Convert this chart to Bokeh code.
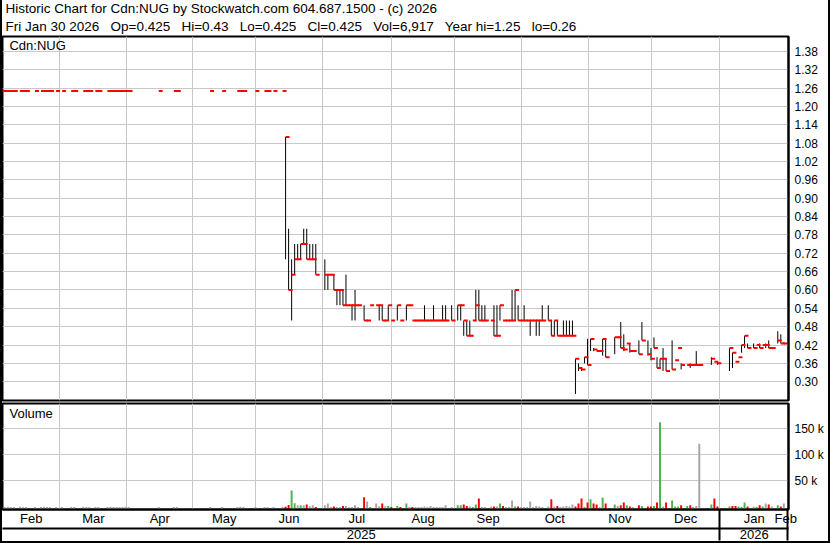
from bokeh.plotting import figure
from bokeh.layouts import column
from bokeh.models import (Range1d, LinearAxis, FixedTicker, Grid, Title, Label,
                          ColumnDataSource, NumeralTickFormatter, BoxAnnotation)
from bokeh.embed import file_html
from bokeh.resources import INLINE

FONT = "Liberation Sans"
SP = "\u00a0\u00a0 "

header_line1 = "Historic Chart for Cdn:NUG by Stockwatch.com 604.687.1500 - (c) 2026"
header_line2 = SP.join(["Fri Jan 30 2026", "Op=0.425", "Hi=0.43", "Lo=0.425", "Cl=0.425",
                        "Vol=6,917", "Year hi=1.25", "lo=0.26"])
symbol = "Cdn:NUG"

# month boundaries in session (weekday slot) units
month_names = ["Feb", "Mar", "Apr", "May", "Jun", "Jul", "Aug", "Sep", "Oct", "Nov", "Dec", "Jan", "Feb"]
month_bounds = [0, 19.0, 41.2, 63.0, 83.9, 105.9, 128.8, 149.8, 171.8, 194.0, 214.9, 237.6, 260.3]
year_names = ["2025", "2026"]
year_bounds = [0, 237.6, 260.3]

price_ticks = [0.30, 0.36, 0.42, 0.48, 0.54, 0.60, 0.66, 0.72, 0.78, 0.84, 0.90,
               0.96, 1.02, 1.08, 1.14, 1.20, 1.26, 1.32, 1.38]
vol_ticks = [50000, 100000, 150000]
vol_tick_labels = ["50 k", "100 k", "150 k"]

# session index, high, low, close, volume, direction (g up / r down / n unchanged)
day_slot = [0, 1, 2, 3, 4, 6, 7, 8, 11, 13, 14, 15, 16, 18, 20, 23, 24, 27, 28, 29, 31, 32,
            35, 36, 37, 38, 39, 40, 41, 42, 52, 57, 58, 69, 73, 78, 79, 80, 84, 87, 88, 90, 93,
            94, 95, 96, 97, 98, 99, 100, 101, 102, 103, 104,
            107, 108, 109, 110, 111, 112, 113, 114, 115, 116, 117, 118,
            120, 121, 122, 124, 125, 126, 127, 128, 129, 131, 132,
            134, 135, 136, 137, 138, 139, 140, 141, 142, 143, 144, 145, 146, 147, 149,
            151, 152, 153, 154, 155, 156, 157, 158, 159, 160,
            162, 163, 164, 165, 166, 167, 168, 169, 170, 171, 172, 173, 174, 175, 176, 177, 178, 179,
            181, 182, 183, 184, 185, 186, 187, 188, 189, 190, 191, 192, 193, 194, 195, 196, 197, 198, 199, 200,
            203, 204, 205, 206, 207, 208, 209, 211, 212,
            214, 215, 216, 217, 218, 219, 220, 222, 223, 224, 225,
            227, 228, 229, 230, 231, 235, 236, 237,
            241, 242, 243, 244, 245, 246, 247, 249, 250, 251, 252, 253, 254, 255, 257, 258, 259]

day_high = [1.25, 1.25, 1.25, 1.25, 1.25, 1.25, 1.25, 1.25, 1.25, 1.25, 1.25, 1.25, 1.25, 1.25, 1.25,
            1.25, 1.25, 1.25, 1.25, 1.25, 1.25, 1.25, 1.25, 1.25, 1.25, 1.25, 1.25, 1.25, 1.25, 1.25,
            1.25, 1.25, 1.25, 1.25, 1.25, 1.25, 1.25, 1.25, 1.25, 1.25, 1.25, 1.25, 1.25,
            1.10, 0.80, 0.70, 0.75, 0.75, 0.75, 0.80, 0.80, 0.75, 0.75, 0.75,
            0.70, 0.65, 0.65, 0.65, 0.60, 0.60, 0.60, 0.65, 0.55, 0.55, 0.60, 0.55,
            0.55, 0.50, 0.55, 0.55, 0.55, 0.55, 0.50, 0.55, 0.50, 0.55, 0.50,
            0.55, 0.55, 0.50, 0.50, 0.50, 0.50, 0.55, 0.50, 0.50, 0.55, 0.50, 0.50, 0.55, 0.55, 0.55,
            0.55, 0.55, 0.50, 0.50, 0.50, 0.50, 0.60, 0.60, 0.55, 0.55,
            0.50, 0.55, 0.55, 0.55, 0.50, 0.50, 0.50, 0.60, 0.60, 0.55, 0.50, 0.55, 0.50, 0.50, 0.50, 0.50, 0.50, 0.55,
            0.55, 0.50, 0.50, 0.50, 0.45, 0.50, 0.50, 0.50, 0.50, 0.375, 0.36, 0.345, 0.38, 0.44, 0.44, 0.41, 0.40, 0.40, 0.44, 0.44,
            0.445, 0.445, 0.495, 0.455, 0.425, 0.425, 0.40, 0.435, 0.495,
            0.435, 0.41, 0.445, 0.38, 0.375, 0.41, 0.375, 0.435, 0.37, 0.41, 0.36,
            0.355, 0.36, 0.355, 0.40, 0.355, 0.38, 0.365, 0.365,
            0.41, 0.395, 0.365, 0.38, 0.42, 0.45, 0.425, 0.425, 0.42, 0.425, 0.42, 0.425, 0.435, 0.41, 0.465, 0.455, 0.43]

day_low = [1.25, 1.25, 1.25, 1.25, 1.25, 1.25, 1.25, 1.25, 1.25, 1.25, 1.25, 1.25, 1.25, 1.25, 1.25,
           1.25, 1.25, 1.25, 1.25, 1.25, 1.25, 1.25, 1.25, 1.25, 1.25, 1.25, 1.25, 1.25, 1.25, 1.25,
           1.25, 1.25, 1.25, 1.25, 1.25, 1.25, 1.25, 1.25, 1.25, 1.25, 1.25, 1.25, 1.25,
           0.70, 0.60, 0.50, 0.65, 0.70, 0.70, 0.75, 0.70, 0.70, 0.70, 0.65,
           0.60, 0.60, 0.65, 0.60, 0.55, 0.55, 0.55, 0.55, 0.55, 0.50, 0.50, 0.55,
           0.50, 0.50, 0.55, 0.55, 0.50, 0.50, 0.50, 0.50, 0.50, 0.50, 0.50,
           0.50, 0.55, 0.50, 0.50, 0.50, 0.50, 0.50, 0.50, 0.50, 0.50, 0.50, 0.50, 0.50, 0.50, 0.50,
           0.50, 0.50, 0.45, 0.45, 0.45, 0.50, 0.50, 0.50, 0.50, 0.50,
           0.50, 0.45, 0.45, 0.50, 0.50, 0.50, 0.50, 0.50, 0.50, 0.50, 0.50, 0.50, 0.50, 0.45, 0.50, 0.45, 0.45, 0.50,
           0.50, 0.45, 0.45, 0.45, 0.45, 0.45, 0.45, 0.45, 0.45, 0.26, 0.335, 0.335, 0.36, 0.355, 0.40, 0.40, 0.40, 0.40, 0.385, 0.38,
           0.39, 0.445, 0.41, 0.40, 0.425, 0.395, 0.40, 0.39, 0.435,
           0.385, 0.37, 0.41, 0.345, 0.345, 0.335, 0.335, 0.34, 0.37, 0.41, 0.34,
           0.355, 0.345, 0.355, 0.355, 0.355, 0.355, 0.365, 0.355,
           0.335, 0.345, 0.365, 0.38, 0.395, 0.41, 0.41, 0.41, 0.42, 0.41, 0.42, 0.41, 0.41, 0.41, 0.425, 0.425, 0.425]

day_close = [1.25, 1.25, 1.25, 1.25, 1.25, 1.25, 1.25, 1.25, 1.25, 1.25, 1.25, 1.25, 1.25, 1.25, 1.25,
             1.25, 1.25, 1.25, 1.25, 1.25, 1.25, 1.25, 1.25, 1.25, 1.25, 1.25, 1.25, 1.25, 1.25, 1.25,
             1.25, 1.25, 1.25, 1.25, 1.25, 1.25, 1.25, 1.25, 1.25, 1.25, 1.25, 1.25, 1.25,
             1.10, 0.60, 0.65, 0.70, 0.70, 0.75, 0.75, 0.70, 0.70, 0.70, 0.65,
             0.65, 0.65, 0.65, 0.60, 0.60, 0.60, 0.55, 0.55, 0.55, 0.55, 0.55, 0.55,
             0.50, 0.50, 0.55, 0.55, 0.55, 0.50, 0.50, 0.55, 0.50, 0.55, 0.50,
             0.55, 0.55, 0.50, 0.50, 0.50, 0.50, 0.50, 0.50, 0.50, 0.50, 0.50, 0.50, 0.50, 0.50, 0.50,
             0.55, 0.55, 0.50, 0.45, 0.45, 0.50, 0.55, 0.50, 0.50, 0.50,
             0.50, 0.45, 0.45, 0.55, 0.50, 0.50, 0.50, 0.50, 0.60, 0.50, 0.50, 0.50, 0.50, 0.50, 0.50, 0.50, 0.50, 0.50,
             0.50, 0.45, 0.50, 0.45, 0.45, 0.45, 0.45, 0.45, 0.45, 0.375, 0.345, 0.34, 0.38, 0.355, 0.44, 0.405, 0.40, 0.40, 0.44, 0.38,
             0.445, 0.445, 0.41, 0.405, 0.425, 0.40, 0.40, 0.39, 0.435,
             0.39, 0.375, 0.41, 0.345, 0.375, 0.375, 0.335, 0.34, 0.37, 0.41, 0.355,
             0.355, 0.355, 0.355, 0.355, 0.355, 0.375, 0.365, 0.36,
             0.41, 0.395, 0.365, 0.38, 0.42, 0.45, 0.41, 0.41, 0.42, 0.41, 0.42, 0.42, 0.41, 0.41, 0.435, 0.425, 0.425]

day_volume = [600, 400, 800, 500, 400, 700, 500, 400, 600, 500, 800, 400, 600, 500, 400,
              600, 500, 700, 400, 500, 600, 400, 500, 800, 400, 600, 500, 400, 700, 500,
              600, 500, 400, 600, 500, 400, 700, 500, 300, 400, 500, 400, 500,
              700, 4000, 32000, 7500, 3500, 3500, 3500, 5000, 1800, 3500, 400,
              3500, 7000, 400, 1500, 400, 400, 2500, 2500, 400, 400, 3500, 400,
              19000, 11000, 400, 7000, 1800, 7000, 1800, 2500, 400, 2500, 400,
              7000, 400, 400, 400, 400, 400, 1500, 400, 2500, 400, 400, 400, 400, 3500, 400,
              3500, 3500, 5000, 2500, 1500, 400, 5000, 16500, 400, 400,
              1500, 1500, 1500, 7000, 2500, 400, 400, 13000, 1500, 1500, 400, 400, 400, 11000, 400, 2500, 1500, 400,
              1500, 15000, 1500, 2500, 400, 1500, 2500, 1500, 5000, 1500, 7000, 16500, 400, 9000, 15000, 7000, 5000, 400, 18500, 7000,
              5000, 2500, 3500, 9000, 3500, 1500, 400, 3500, 2500,
              1500, 1500, 2500, 9000, 162000, 1500, 9000, 13000, 1500, 1500, 3500,
              2500, 3500, 400, 2500, 121000, 5000, 16500, 1500,
              1500, 2500, 2500, 1500, 400, 9000, 1500, 1500, 400, 3500, 1500, 7000, 5000, 1500, 3500, 1500, 6917]

day_dir = [
    "n", "n", "n", "n", "n", "n", "n", "n", "n", "n", "n", "n", "n", "n", "n",
    "n", "n", "n", "n", "n", "n", "n", "n", "n", "n", "n", "n", "n", "n", "n",
    "n", "n", "n", "n", "n", "n", "n", "n", "n", "n", "n", "n", "n",
    "r", "r", "g", "g", "n", "g", "n", "r", "n", "n", "r",
    "n", "n", "n", "r", "n", "n", "r", "n", "n", "n", "n", "n",
    "r", "n", "g", "n", "n", "r", "n", "g", "r", "g", "r",
    "g", "n", "r", "n", "n", "n", "n", "n", "n", "n", "n", "n", "n", "n", "n",
    "g", "g", "r", "r", "n", "g", "g", "r", "n", "n",
    "n", "r", "n", "g", "r", "n", "n", "n", "g", "r", "n", "n", "n", "n", "n", "n", "n", "n",
    "n", "r", "n", "r", "n", "n", "n", "n", "n", "r", "r", "r", "g", "r", "g", "r", "r", "n", "g", "r",
    "g", "n", "r", "r", "g", "r", "n", "r", "g",
    "r", "r", "g", "r", "g", "n", "r", "g", "g", "g", "r",
    "g", "r", "n", "n", "n", "g", "r", "r",
    "g", "r", "r", "g", "g", "g", "r", "n", "g", "r", "g", "n", "r", "n", "g", "r", "n"]

dir_colors = {"g": "#4cb44c", "r": "#ff0000", "n": "#a6a6a6"}

X_RANGE = (0, 260.3)
P_RANGE = (0.2386, 1.4284)
V_RANGE = (-4400, 197900)

src = ColumnDataSource(dict(
    x=[s - 0.25 for s in day_slot],
    xe=[s + 1.05 for s in day_slot],
    hi=day_high, lo=day_low, cl=day_close,
    vol=day_volume,
    color=[dir_colors[d] for d in day_dir],
))

GRID = "#c8c8c8"
W = 826

# ---------------- price panel ----------------
p = figure(width=W, height=402, x_range=Range1d(*X_RANGE), y_range=Range1d(*P_RANGE),
           output_backend="svg", toolbar_location=None, x_axis_location=None,
           y_axis_location="right", min_border_left=0, min_border_right=40,
           min_border_top=32, min_border_bottom=2,
           outline_line_color="black", outline_line_width=2,
           background_fill_color="white", border_fill_color="white")
p.grid.visible = False
p.add_layout(Grid(dimension=1, ticker=FixedTicker(ticks=price_ticks), grid_line_color=GRID))
p.add_layout(Grid(dimension=0, ticker=FixedTicker(ticks=month_bounds[1:-1]), grid_line_color=GRID))

ya = p.yaxis[0]
ya.ticker = FixedTicker(ticks=price_ticks)
ya.formatter = NumeralTickFormatter(format="0.00")
ya.major_tick_out = 0
ya.major_tick_in = 0
ya.minor_tick_out = 0
ya.minor_tick_in = 0
ya.axis_line_width = 2
ya.major_label_standoff = 6
ya.major_label_text_font = FONT
ya.major_label_text_font_size = "12px"
ya.major_label_text_color = "black"

p.add_layout(Title(text=header_line2, align="left", offset=3, standoff=5, text_font=FONT,
                   text_font_size="13.5px", text_font_style="normal", text_color="black"), "above")
p.add_layout(Title(text=header_line1, align="left", offset=3, standoff=-3, text_font=FONT,
                   text_font_size="13.5px", text_font_style="normal", text_color="black"), "above")

# header rule continuing over the price-label column
p.add_layout(BoxAnnotation(left=X_RANGE[1], right=X_RANGE[1] + 16, top=P_RANGE[1], bottom=P_RANGE[1],
                           fill_alpha=0, line_color="black", line_width=2))

p.segment(x0="x", y0="lo", x1="x", y1="hi", source=src, line_color="black", line_width=1)
p.segment(x0="x", y0="cl", x1="xe", y1="cl", source=src, line_color="#ff0000", line_width=2)
p.add_layout(Label(x=2.3, y=1.423, text=symbol, text_baseline="top", text_font=FONT,
                   text_font_size="13px", text_color="black"))

# ---------------- volume panel ----------------
v = figure(width=W, height=139, x_range=p.x_range, y_range=Range1d(*V_RANGE),
           output_backend="svg", toolbar_location=None, x_axis_location=None,
           y_axis_location="right", min_border_left=0, min_border_right=40,
           min_border_top=1, min_border_bottom=0,
           outline_line_color="black", outline_line_width=2,
           background_fill_color="white", border_fill_color="white")
v.grid.visible = False
v.add_layout(Grid(dimension=1, ticker=FixedTicker(ticks=vol_ticks), grid_line_color=GRID))
v.add_layout(Grid(dimension=0, ticker=FixedTicker(ticks=month_bounds[1:-1]), grid_line_color=GRID))

va = v.yaxis[0]
va.ticker = FixedTicker(ticks=vol_ticks)
va.major_label_overrides = dict(zip(vol_ticks, vol_tick_labels))
va.major_tick_out = 0
va.major_tick_in = 0
va.minor_tick_out = 0
va.minor_tick_in = 0
va.axis_line_width = 2
va.major_label_standoff = 6
va.major_label_text_font = FONT
va.major_label_text_font_size = "12px"
va.major_label_text_color = "black"

v.vbar(x="x", width=0.65, bottom=V_RANGE[0], top="vol", source=src,
       fill_color="color", line_color=None)
v.add_layout(Label(x=2.3, y=194000, text="Volume", text_baseline="top", text_font=FONT,
                   text_font_size="13px", text_color="black"))

month_pos = [(month_bounds[i] + month_bounds[i + 1]) / 2 for i in range(len(month_bounds) - 1)]
month_pos.append(259.4)
year_pos = [(year_bounds[i] + year_bounds[i + 1]) / 2 for i in range(len(year_bounds) - 1)]

month_axis = LinearAxis(ticker=FixedTicker(ticks=month_pos, minor_ticks=[year_bounds[1], 260.1]),
                        major_label_overrides=dict(zip(month_pos, month_names)),
                        axis_line_width=2, major_tick_out=0, major_tick_in=0,
                        minor_tick_in=0, minor_tick_out=31, minor_tick_line_width=2,
                        minor_tick_line_color="black",
                        major_label_standoff=-30, major_label_text_font=FONT,
                        major_label_text_font_size="13px", major_label_text_color="black")
v.add_layout(month_axis, "below")
year_axis = LinearAxis(ticker=FixedTicker(ticks=year_pos, minor_ticks=[]),
                       major_label_overrides=dict(zip(year_pos, year_names)),
                       axis_line_width=2, major_tick_out=0, major_tick_in=0,
                       minor_tick_in=0, minor_tick_out=0,
                       major_label_standoff=1, major_label_text_font=FONT,
                       major_label_text_font_size="13px", major_label_text_color="black")
v.add_layout(year_axis, "below")

layout = column(p, v, spacing=0,
                styles={"border-left": "2px solid black", "border-right": "2px solid black",
                        "border-bottom": "2px solid black"})
open("out.html", "w").write(file_html(layout, INLINE))
